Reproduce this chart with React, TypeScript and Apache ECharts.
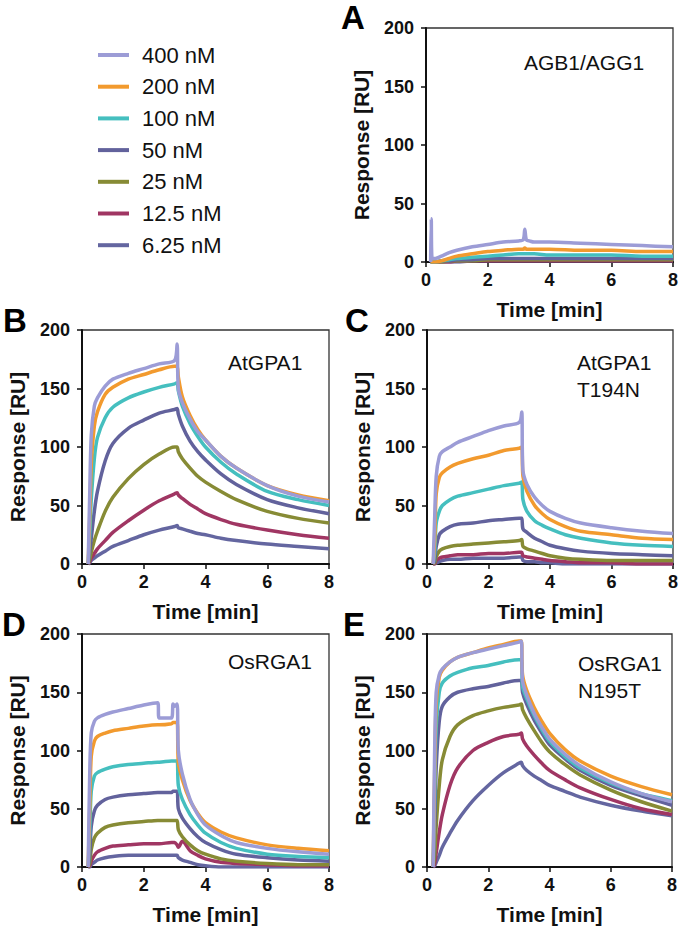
import React, { useEffect, useRef } from "react";
import * as echarts from "echarts";

const concentrations = ["400 nM", "200 nM", "100 nM", "50 nM", "25 nM", "12.5 nM", "6.25 nM"];
const colors = ["#9c9cd6", "#f29a2e", "#45bfbf", "#62629c", "#878b35", "#a03663", "#6466a0"];

const xTicks = [0, 2, 4, 6, 8];
const yTicks = [0, 50, 100, 150, 200];

// Panel A: AGB1/AGG1
const timeA = [0.15, 0.17, 0.2, 0.3, 0.5, 0.75, 1, 1.5, 2, 2.5, 3, 3.15, 3.2, 3.25, 3.35, 3.5, 4, 5, 6, 7, 8];
const panelA = [
  [0, 37, 3, 3, 5, 8, 10, 13, 15, 17, 18, 19, 28, 19, 18, 17, 17, 16, 15, 14, 13],
  [0, 0, 0, 0, 1, 3, 5, 7, 9, 10, 11, 11, 12, 11, 11, 11, 11, 10, 10, 9, 9],
  [0, 0, 0, 0, 1, 2, 3, 4, 5, 6, 7, 7, 7, 7, 7, 7, 6, 6, 6, 5, 5],
  [0, 0, 0, 0, 1, 1, 2, 2, 3, 3, 3, 3, 3, 3, 3, 3, 3, 3, 3, 3, 3],
  [0, 0, 0, 0, 0, 1, 1, 1, 2, 2, 2, 2, 2, 2, 2, 2, 2, 2, 2, 2, 2],
  [0, 0, 0, 0, 0, 0, 1, 1, 1, 1, 1, 1, 1, 1, 1, 1, 1, 1, 1, 1, 1],
  [0, 0, 0, 0, 0, 0, 0, 1, 1, 1, 1, 1, 1, 1, 1, 1, 1, 1, 1, 1, 1],
];

// Panels B, C, E share sampling times
const timeBCE = [0.2, 0.25, 0.3, 0.4, 0.5, 0.75, 1, 1.5, 2, 2.5, 3, 3.08, 3.12, 3.25, 3.5, 3.75, 4, 4.5, 5, 6, 7, 8];

// Panel B: AtGPA1
const panelB = [
  [0, 60, 110, 135, 142, 152, 158, 163, 167, 171, 174, 188, 150, 138, 124, 113, 106, 92, 82, 67, 58, 53],
  [0, 40, 85, 118, 130, 145, 151, 158, 162, 166, 169, 169, 160, 143, 127, 115, 106, 92, 82, 67, 59, 54],
  [0, 25, 55, 90, 108, 125, 134, 142, 147, 151, 154, 155, 148, 135, 120, 109, 100, 87, 77, 62, 55, 50],
  [0, 10, 22, 45, 62, 88, 103, 116, 123, 129, 132, 133, 128, 118, 105, 96, 89, 77, 68, 55, 48, 43],
  [0, 4, 10, 20, 28, 45, 57, 73, 85, 94, 100, 100, 96, 90, 82, 75, 70, 62, 55, 45, 39, 35],
  [0, 2, 5, 9, 13, 20, 27, 37, 46, 54, 60, 61, 59, 56, 51, 47, 43, 38, 34, 29, 25, 22],
  [0, 1, 3, 5, 7, 11, 15, 20, 25, 29, 32, 33, 31, 30, 28, 26, 25, 22, 20, 17, 15, 13],
];

// Panel C: AtGPA1 T194N
const panelC = [
  [0, 40, 75, 92, 96, 100, 104, 109, 114, 118, 121, 130, 80, 68, 57, 50, 45, 39, 35, 31, 28, 26],
  [0, 20, 60, 74, 78, 83, 86, 90, 93, 97, 99, 100, 75, 62, 50, 43, 38, 32, 28, 25, 22, 21],
  [0, 10, 35, 45, 50, 55, 58, 61, 64, 67, 69, 70, 55, 45, 37, 33, 30, 25, 22, 18, 16, 15],
  [0, 3, 15, 25, 28, 32, 34, 35, 37, 38, 39, 39, 30, 27, 22, 19, 16, 13, 11, 9, 8, 7],
  [0, 1, 6, 11, 13, 15, 16, 17, 18, 19, 20, 21, 15, 13, 11, 9, 7, 5, 4, 3, 3, 3],
  [0, 0, 3, 5, 6, 7, 8, 8, 9, 9, 10, 10, 7, 6, 5, 4, 3, 2, 1, 1, 0, 0],
  [0, 0, 1, 2, 3, 4, 4, 5, 5, 5, 6, 6, 3, 2, 2, 1, 1, 0, 0, 0, 0, 0],
];

// Panel D: OsRGA1
const timeD = [0.2, 0.25, 0.3, 0.4, 0.5, 0.75, 1, 1.5, 2, 2.45, 2.5, 2.9, 2.95, 3, 3.08, 3.12, 3.25, 3.5, 3.75, 4, 4.5, 5, 6, 7, 8];
const panelD = [
  [0, 80, 115, 125, 128, 131, 133, 136, 139, 141, 128, 128, 140, 138, 140, 100, 80, 58, 45, 36, 27, 21, 16, 13, 11],
  [0, 50, 95, 108, 112, 115, 117, 119, 121, 122, 122, 123, 124, 124, 124, 90, 75, 57, 46, 38, 30, 25, 19, 16, 14],
  [0, 30, 65, 78, 81, 84, 86, 88, 89, 90, 90, 91, 91, 91, 91, 70, 58, 45, 36, 29, 21, 16, 11, 9, 8],
  [0, 10, 35, 48, 53, 58, 60, 62, 63, 64, 64, 64, 65, 65, 65, 50, 42, 33, 26, 21, 15, 11, 8, 6, 5],
  [0, 3, 15, 25, 29, 34, 36, 38, 39, 40, 40, 40, 40, 40, 40, 32, 26, 19, 14, 11, 7, 5, 3, 2, 2],
  [0, 1, 5, 10, 13, 16, 18, 19, 20, 20, 20, 21, 21, 21, 19, 17, 22, 14, 10, 7, 4, 3, 2, 1, 1],
  [0, 0, 2, 4, 6, 8, 9, 10, 10, 10, 10, 10, 10, 10, 10, 8, 6, 4, 2, 1, 0, 0, 0, 0, 0],
];

// Panel E: OsRGA1 N195T
const panelE = [
  [0, 100, 150, 165, 170, 176, 180, 184, 187, 190, 193, 194, 160, 148, 132, 120, 110, 97, 87, 73, 63, 56],
  [0, 80, 140, 163, 169, 176, 180, 184, 188, 191, 194, 194, 165, 152, 137, 125, 115, 101, 91, 78, 69, 62],
  [0, 60, 120, 150, 158, 164, 167, 171, 173, 176, 178, 178, 155, 145, 130, 118, 108, 95, 85, 72, 63, 57],
  [0, 35, 85, 125, 138, 146, 150, 153, 155, 158, 160, 160, 150, 140, 126, 115, 105, 93, 83, 70, 61, 53],
  [0, 10, 35, 70, 92, 112, 122, 130, 134, 137, 139, 140, 135, 128, 117, 107, 99, 88, 79, 66, 56, 48],
  [0, 3, 12, 30, 45, 70, 85, 100, 107, 112, 114, 115, 110, 104, 96, 89, 83, 75, 68, 58, 50, 45],
  [0, 1, 4, 10, 17, 29, 40, 57, 70, 81, 89, 90, 87, 83, 78, 74, 70, 65, 60, 53, 48, 44],
];

const panelLetters = ["A", "B", "C", "D", "E"];
const panelNames = [["AGB1/AGG1"], ["AtGPA1"], ["AtGPA1", "T194N"], ["OsRGA1"], ["OsRGA1", "N195T"]];

const FONT = "'Liberation Sans', Arial, Helvetica, sans-serif";

export default function App() {
  const ref = useRef<HTMLDivElement>(null);

  useEffect(() => {
    if (!ref.current) return;
    const chart = echarts.init(ref.current, undefined, { renderer: "svg" });

    const grids = [
      { left: 426, top: 28, width: 247, height: 234 },
      { left: 82, top: 330, width: 247, height: 234 },
      { left: 427, top: 330, width: 246, height: 234 },
      { left: 82, top: 634, width: 247, height: 233 },
      { left: 427, top: 634, width: 245, height: 233 },
    ];
    const panels = [
      { t: timeA, v: panelA },
      { t: timeBCE, v: panelB },
      { t: timeBCE, v: panelC },
      { t: timeD, v: panelD },
      { t: timeBCE, v: panelE },
    ];
    const letterPos = [
      [341, 17.5],
      [3, 320.5],
      [345, 320.5],
      [2, 624.5],
      [343, 624.5],
    ];
    const namePos = [
      [524, 62.5],
      [228, 362.5],
      [577, 362.5],
      [228, 661.5],
      [578, 663.5],
    ];

    const xAxes = grids.map((_, i) => ({
      type: "value",
      gridIndex: i,
      min: 0,
      max: 8,
      interval: 2,
      name: "Time [min]",
      nameLocation: "middle",
      nameGap: 37,
      nameTextStyle: { fontFamily: FONT, fontSize: 21, fontWeight: "bold", color: "#111" },
      axisLine: { show: true, lineStyle: { color: "#111", width: 2 } },
      axisTick: { show: true, length: 5, lineStyle: { color: "#111", width: 1.5 } },
      axisLabel: {
        fontFamily: FONT,
        fontSize: 18,
        fontWeight: "bold",
        color: "#111",
        margin: 9,
        formatter: (val: number) => (xTicks.includes(val) ? String(val) : ""),
      },
      splitLine: { show: false },
    }));
    const yAxes = grids.map((_, i) => ({
      type: "value",
      gridIndex: i,
      min: 0,
      max: 200,
      interval: 50,
      name: "Response [RU]",
      nameLocation: "middle",
      nameGap: 54,
      nameTextStyle: { fontFamily: FONT, fontSize: 21, fontWeight: "bold", color: "#111" },
      axisLine: { show: true, lineStyle: { color: "#111", width: 2 } },
      axisTick: { show: true, length: 5, lineStyle: { color: "#111", width: 1.5 } },
      axisLabel: {
        fontFamily: FONT,
        fontSize: 18,
        fontWeight: "bold",
        color: "#111",
        margin: 12,
        formatter: (val: number) => (yTicks.includes(val) ? String(val) : ""),
      },
      splitLine: { show: false },
    }));

    const series: any[] = [];
    panels.forEach((p, gi) => {
      for (let k = concentrations.length - 1; k >= 0; k--) {
        series.push({
          type: "line",
          name: concentrations[k],
          xAxisIndex: gi,
          yAxisIndex: gi,
          data: p.t.map((t, j) => [t, p.v[k][j]]),
          showSymbol: false,
          symbol: "none",
          smooth: 0.3,
          color: colors[k],
          lineStyle: { color: colors[k], width: 3.5 },
          itemStyle: { color: colors[k] },
          z: 2,
        });
      }
    });

    const graphics: any[] = [];
    panelLetters.forEach((L, i) => {
      graphics.push({
        type: "text",
        x: letterPos[i][0],
        y: letterPos[i][1],
        style: {
          text: L,
          fill: "#000",
          font: `bold 33px ${FONT}`,
          textAlign: "left",
          textVerticalAlign: "middle",
        },
      });
      panelNames[i].forEach((line, li) => {
        graphics.push({
          type: "text",
          x: namePos[i][0],
          y: namePos[i][1] + li * 27,
          style: {
            text: line,
            fill: "#111",
            font: `21px ${FONT}`,
            textAlign: "left",
            textVerticalAlign: "middle",
          },
        });
      });
    });

    chart.setOption({
      animation: false,
      backgroundColor: "#fff",
      grid: grids.map((g) => ({
        ...g,
        show: true,
        borderColor: "#333",
        borderWidth: 1.3,
        backgroundColor: "transparent",
        containLabel: false,
      })),
      xAxis: xAxes,
      yAxis: yAxes,
      legend: {
        data: concentrations,
        orient: "vertical",
        left: 93,
        top: 36,
        icon: "rect",
        itemWidth: 31,
        itemHeight: 4,
        itemGap: 3.7,
        selectedMode: false,
        textStyle: {
          fontFamily: FONT,
          fontSize: 22,
          color: "#111",
          lineHeight: 22,
          padding: [6, 0, 0, 8],
        },
      },
      graphic: graphics,
      series,
    });

    return () => chart.dispose();
  }, []);

  return (
    <div
      ref={ref}
      style={{ position: "fixed", left: 0, top: 0, width: 682, height: 931 }}
    />
  );
}
